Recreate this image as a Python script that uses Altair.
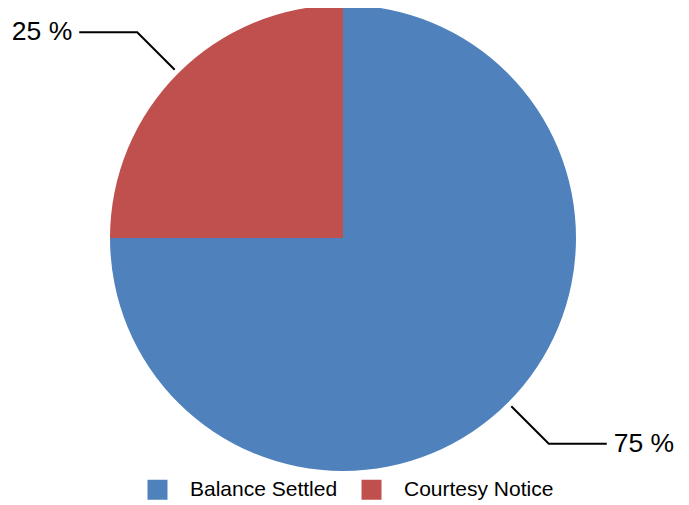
import altair as alt
import pandas as pd
import numpy as np

categories = ["Balance Settled", "Courtesy Notice"]
values = [75, 25]
labels = ["75 %", "25 %"]
colors = ["#4F81BD", "#C0504D"]

W, H = 673, 497
CX, CY = 335, 230
R = 233
R1, R2, HLEN, TGAP = 238, 291, 58, 7

pie_df = pd.DataFrame({"category": categories, "value": values, "ord": list(range(len(categories)))})

# leader lines computed from the slice mid-angles
total = sum(values)
cum = np.cumsum([0] + values)
line_rows, text_rows = [], []
for i, cat in enumerate(categories):
    mid = (cum[i] + cum[i + 1]) / 2 / total * 2 * np.pi
    dx, dy = np.sin(mid), -np.cos(mid)
    side = 1 if dx >= 0 else -1
    p1 = (CX + R1 * dx, CY + R1 * dy)
    p2 = (CX + R2 * dx, CY + R2 * dy)
    p3 = (p2[0] + side * HLEN, p2[1])
    for s, p in enumerate([p1, p2, p3]):
        line_rows.append({"category": cat, "seq": s, "px": p[0], "py": p[1]})
    text_rows.append({"category": cat, "label": labels[i], "px": p3[0] + side * TGAP, "py": p3[1], "side": side})
line_df = pd.DataFrame(line_rows)
text_df = pd.DataFrame(text_rows)

pie = alt.Chart(pie_df).mark_arc(outerRadius=R).encode(
    theta=alt.Theta("value:Q", stack=True),
    color=alt.Color("category:N", scale=alt.Scale(domain=categories, range=colors),
                    legend=alt.Legend(title=None)),
    order=alt.Order("ord:Q"),
    x=alt.value(CX),
    y=alt.value(CY),
)

lines = alt.Chart(line_df).mark_line(color="black", strokeWidth=2).encode(
    x=alt.X("px:Q", scale=None, axis=None),
    y=alt.Y("py:Q", scale=None, axis=None),
    detail="category:N",
    order="seq:Q",
)

txt_right = alt.Chart(text_df).transform_filter("datum.side > 0").mark_text(
    align="left", baseline="middle", fontSize=26.5, font="Liberation Sans", color="black"
).encode(x=alt.X("px:Q", scale=None, axis=None), y=alt.Y("py:Q", scale=None, axis=None), text="label:N")

txt_left = alt.Chart(text_df).transform_filter("datum.side < 0").mark_text(
    align="right", baseline="middle", fontSize=26.5, font="Liberation Sans", color="black"
).encode(x=alt.X("px:Q", scale=None, axis=None), y=alt.Y("py:Q", scale=None, axis=None), text="label:N")

chart = alt.layer(pie, lines, txt_left, txt_right).properties(
    width=W, height=H, padding=0, autosize=alt.AutoSizeParams(type="none")
).configure_view(stroke=None).configure_legend(
    orient="none", legendX=139, legendY=471, direction="horizontal",
    symbolType="square", symbolSize=400, symbolStrokeWidth=0, symbolOpacity=1,
    labelFont="Liberation Sans", labelFontSize=21, labelColor="black",
    labelOffset=22, columnPadding=23, padding=0,
)

chart.save("out.html", embed_options={"renderer": "svg", "actions": False})
